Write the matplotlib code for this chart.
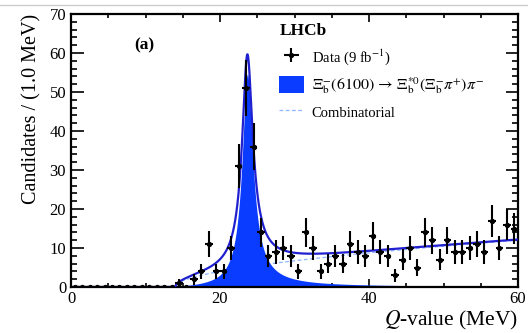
import numpy as np
import matplotlib
matplotlib.use("Agg")
import matplotlib.pyplot as plt
from matplotlib.patches import Patch
from matplotlib.lines import Line2D

plt.rcParams['font.family'] = ['Liberation Serif', 'DejaVu Serif']
plt.rcParams['mathtext.fontset'] = 'stix'

# data: 1 MeV bins from 0 to 60
bin_centers = np.arange(0.5, 60.0, 1.0)
counts = [0, 0, 0, 0, 0, 0, 0, 0, 0, 0,
          0, 0, 0, 0, 1, 0, 2, 4, 11, 4,
          4, 10, 31, 51, 36, 14, 8, 9, 10, 8,
          4, 14, 10, 4, 6, 8, 6, 11, 9, 8,
          13, 9, 8, 3, 7, 10, 5, 14, 12, 7,
          12, 9, 9, 10, 11, 9, 17, 10, 16, 15]

# fit parameters
peak_q = 23.66
peak_scale = 0.8
peak_power = 0.85
peak_height = 54.5
threshold_q = 14.0
bkg_sqrt = 1.555
bkg_lin = 0.0316

line_col = '#2020d0'
fill_col = '#0a3cff'
comb_col = '#8fb4ff'


def combinatorial(q):
    d = np.clip(q - threshold_q, 0, None)
    return bkg_sqrt * np.sqrt(d) + bkg_lin * d


def signal(q):
    d = np.clip(q - threshold_q, 0, None)
    ps = np.sqrt(d / (peak_q - threshold_q))
    return peak_height * ps / (1 + ((q - peak_q) / peak_scale) ** 2) ** peak_power


q = np.linspace(0, 60, 2000)
sig = signal(q)
bkg = combinatorial(q)
total = sig + bkg

fig = plt.figure(figsize=(5.28, 3.33), dpi=100)
ax = fig.add_axes([71 / 528, 1 - 287 / 333, 447 / 528, 273 / 333])

ax.plot(q, bkg, color=comb_col, lw=0.9, ls=(0, (3, 2)), zorder=1)
ax.fill_between(q, 0, sig, color=fill_col, lw=0, zorder=2)
ax.plot(q, total, color=line_col, lw=1.6, zorder=3)

counts = np.array(counts)
err = np.sqrt(counts)
data = ax.errorbar(bin_centers, counts, yerr=err, xerr=0.5, fmt='o', color='black',
                   ms=2.8, elinewidth=1.5, capsize=0, zorder=4)

ax.set_xlim(0, 60)
ax.set_ylim(0, 70)
ax.set_xticks([0, 20, 40, 60])
ax.set_xticks(np.arange(0, 61, 5), minor=True)
ax.set_yticks(np.arange(0, 71, 10))
ax.set_yticks(np.arange(0, 71, 2), minor=True)
ax.tick_params(axis='both', which='both', direction='in', top=True, right=True,
               labelsize=12, width=1.2)
ax.tick_params(axis='x', which='major', length=6)
ax.tick_params(axis='x', which='minor', length=3)
ax.tick_params(axis='y', which='major', length=9)
ax.tick_params(axis='y', which='minor', length=4.5)
ax.tick_params(axis='x', pad=3)
for s in ax.spines.values():
    s.set_linewidth(1.6)

ax.set_ylabel('Candidates / (1.0 MeV)', fontsize=14.5, loc='top', labelpad=6)
ax.set_xlabel(r'$Q$-value (MeV)', fontsize=15.5, loc='right', labelpad=1)

ax.text(9.8, 62, '(a)', fontsize=12.5, fontweight='bold', ha='center', va='center')

handles = [data,
           Patch(facecolor=fill_col, edgecolor='none'),
           Line2D([], [], color=comb_col, lw=0.9, ls=(0, (3, 2)))]
labels = [r'Data (9 fb$^{-1}$)',
          r'$\it{\Xi}_{\rm b}^{-}(6100)\,\rightarrow\,\it{\Xi}_{\rm b}^{*0}(\it{\Xi}_{\rm b}^{-}\pi^{+})\pi^{-}$',
          'Combinatorial']
leg = ax.legend(handles, labels, loc='upper left', bbox_to_anchor=(0.437, 1.015),
                frameon=False, fontsize=10.5, title='LHCb', handlelength=1.65,
                handleheight=1.35, labelspacing=0.55, alignment='left',
                handletextpad=0.55)
leg.get_title().set_fontweight('bold')
leg.get_title().set_fontsize(12.5)
leg.get_texts()[1].set_fontsize(11.5)

# thin grey border line at the top of the screenshot
fig.add_artist(Line2D([0, 1], [1 - 5 / 333, 1 - 5 / 333], color='#cccccc', lw=1))

fig.savefig('out.png', dpi=100)
